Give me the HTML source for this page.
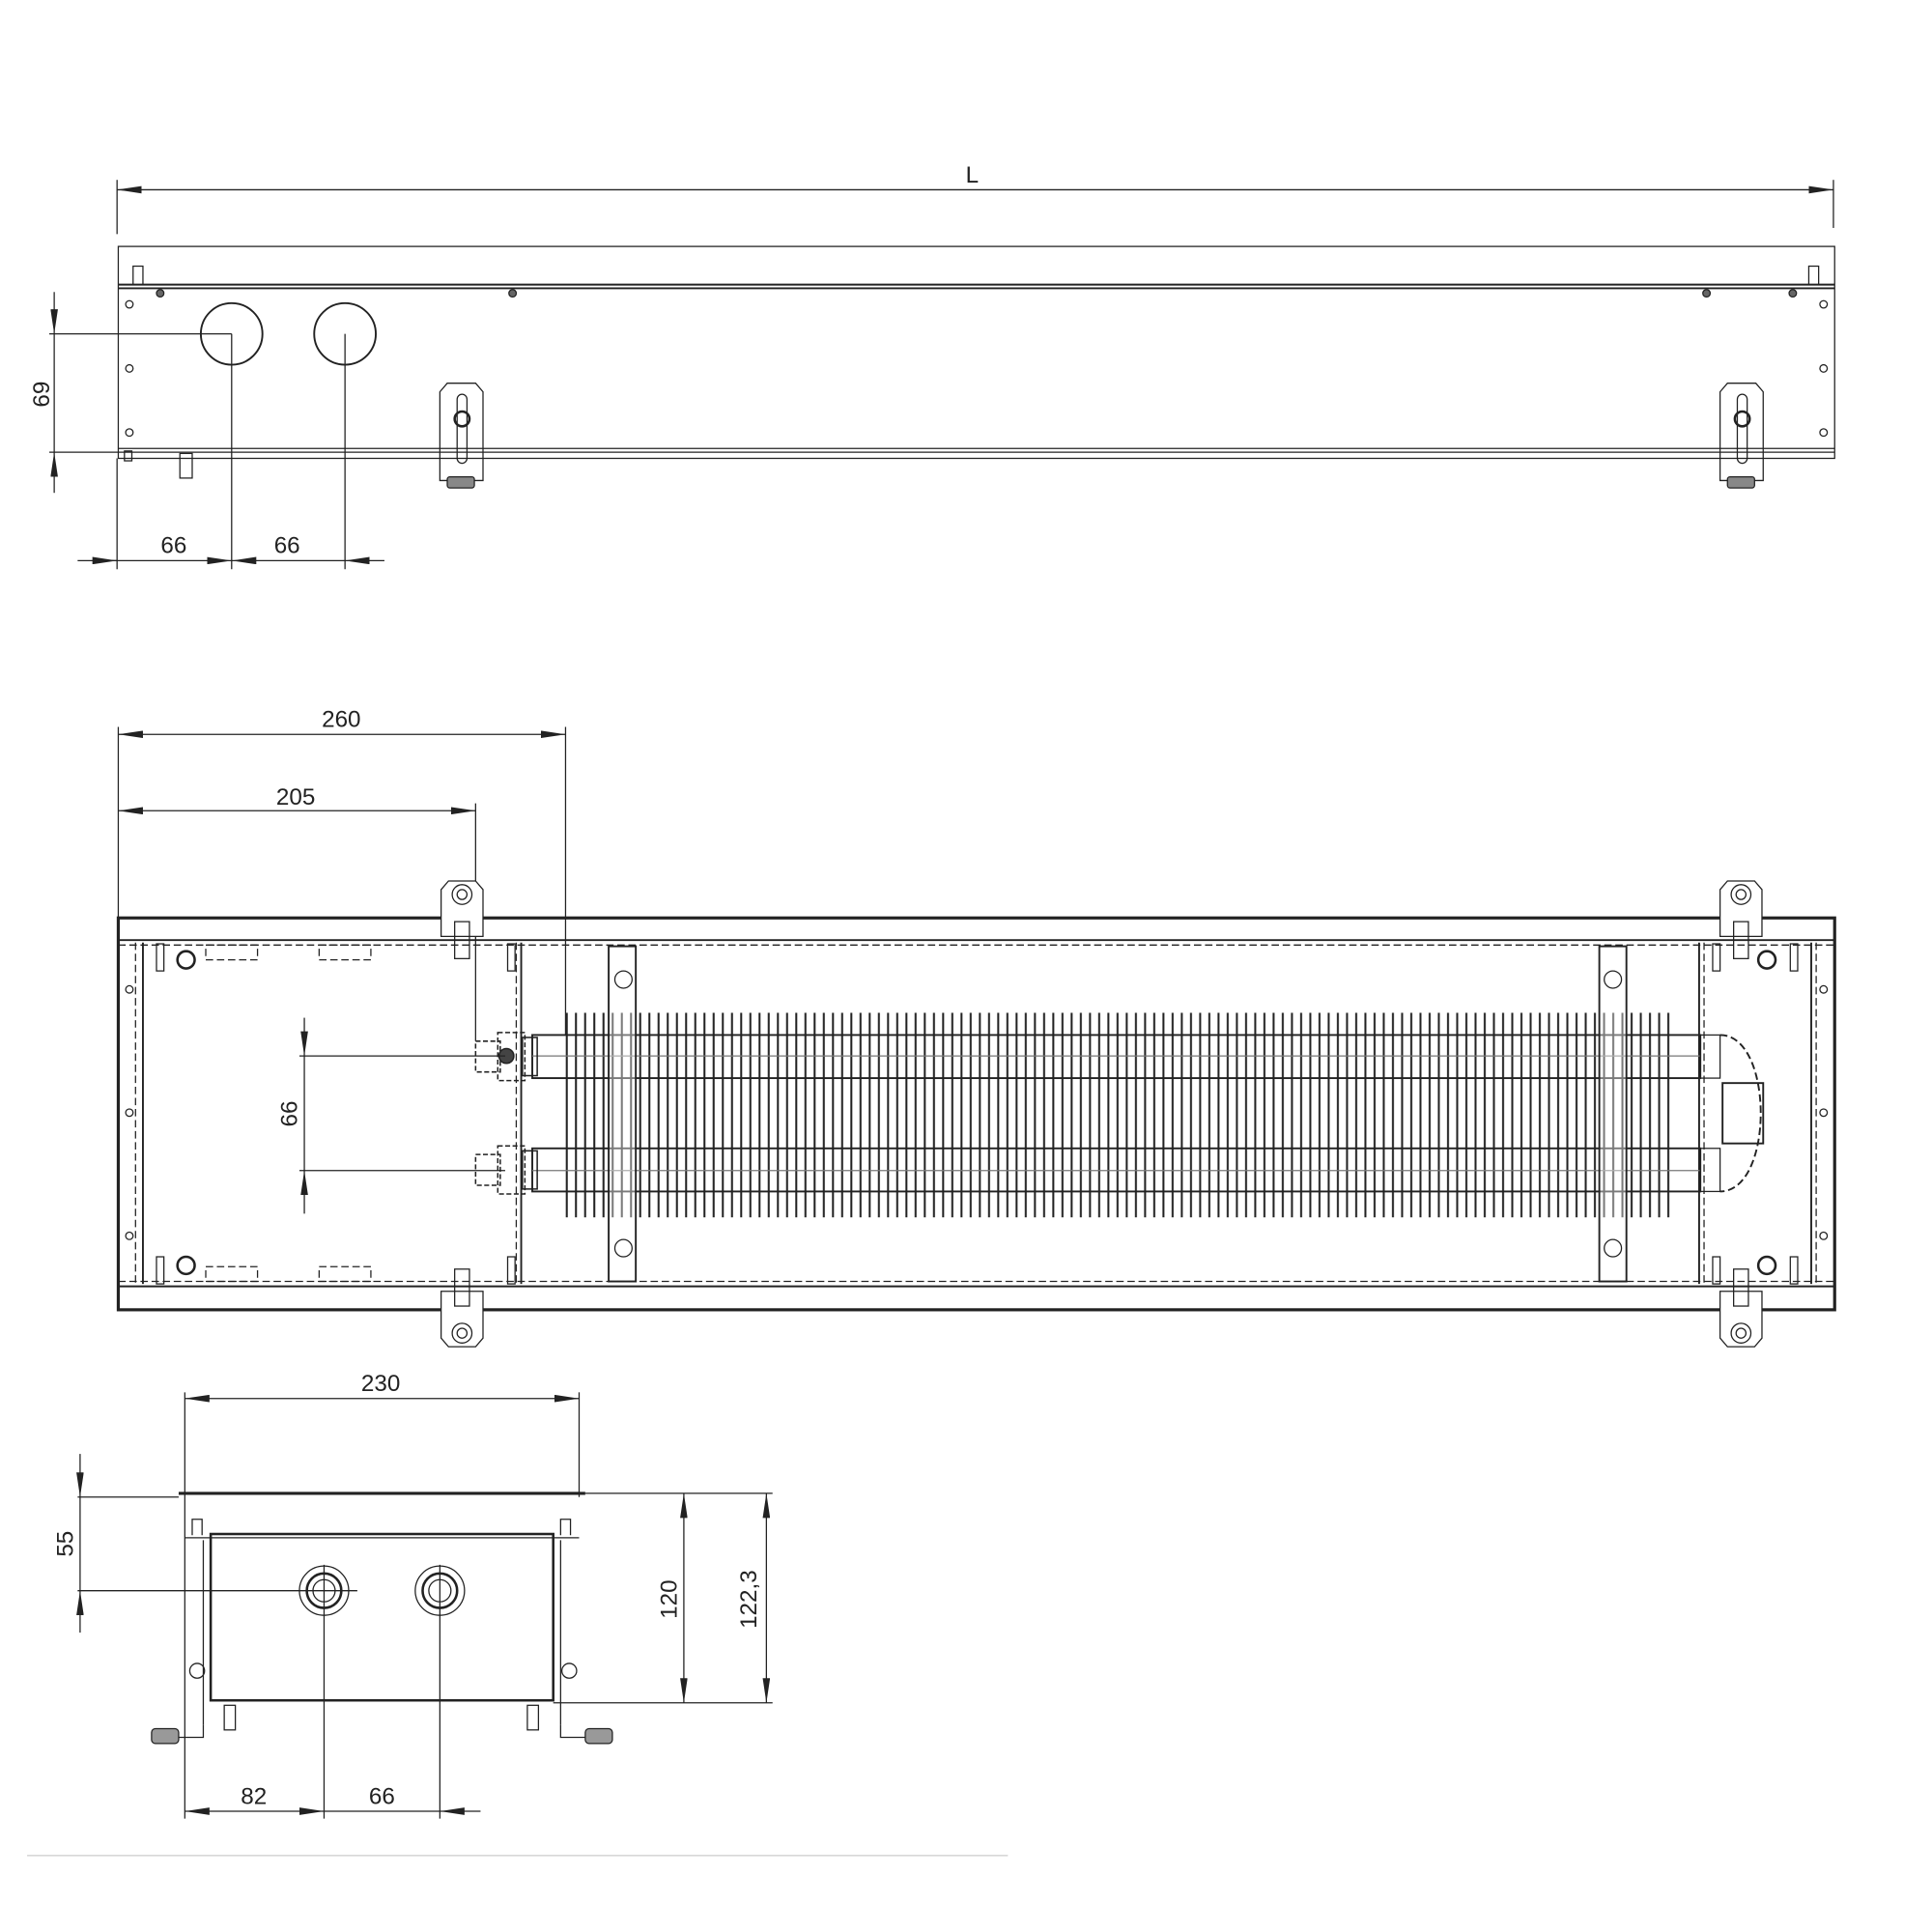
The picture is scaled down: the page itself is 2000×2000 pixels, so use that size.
<!DOCTYPE html>
<html><head><meta charset="utf-8"><style>html,body{margin:0;padding:0;background:#fff}svg{display:block}</style></head>
<body>
<svg width="2000" height="2000" viewBox="0 0 1568 1568" xmlns="http://www.w3.org/2000/svg" font-family="Liberation Sans, sans-serif" font-size="19" fill="none" stroke="#222" stroke-width="1">
<defs>
<marker id="a" viewBox="0 0 20 6" refX="20" refY="3" markerWidth="20" markerHeight="6" markerUnits="userSpaceOnUse" orient="auto-start-reverse"><path d="M0,0L20,3L0,6Z" fill="#222" stroke="none"/></marker>
<pattern id="fins" x="458" y="0" width="7.45" height="10" patternUnits="userSpaceOnUse"><line x1="2" y1="0" x2="2" y2="10" stroke="#222" stroke-width="1.6"/></pattern>
</defs>

<!-- ===== TOP VIEW ===== -->
<line x1="95" y1="154" x2="1488" y2="154" marker-start="url(#a)" marker-end="url(#a)"/>
<line x1="95" y1="146" x2="95" y2="190"/><line x1="1488" y1="146" x2="1488" y2="185"/>
<text x="789" y="148" fill="#222" stroke="none" text-anchor="middle">L</text>
<rect x="96" y="200" width="1393" height="172"/>
<line x1="96" y1="231" x2="1489" y2="231" stroke-width="1.5"/><line x1="96" y1="234" x2="1489" y2="234" stroke-width="1.5"/>
<line x1="96" y1="364" x2="1489" y2="364"/><line x1="96" y1="367" x2="1489" y2="367"/>
<rect x="108" y="216" width="8" height="15"/><rect x="1468" y="216" width="8" height="15"/>
<circle cx="188" cy="271" r="25" stroke-width="1.5"/><circle cx="280" cy="271" r="25" stroke-width="1.5"/>
<g stroke-width="1"><circle cx="105" cy="247" r="3"/><circle cx="105" cy="299" r="3"/><circle cx="105" cy="351" r="3"/>
<circle cx="1480" cy="247" r="3"/><circle cx="1480" cy="299" r="3"/><circle cx="1480" cy="351" r="3"/>
<circle cx="130" cy="238" r="3" fill="#666"/><circle cx="416" cy="238" r="3" fill="#666"/><circle cx="1385" cy="238" r="3" fill="#666"/><circle cx="1455" cy="238" r="3" fill="#666"/></g>
<rect x="101" y="366" width="6" height="8"/><rect x="146" y="368" width="10" height="20"/>
<line x1="44" y1="237" x2="44" y2="271" marker-end="url(#a)"/><line x1="44" y1="271" x2="44" y2="367"/><line x1="44" y1="400" x2="44" y2="367" marker-end="url(#a)"/>
<line x1="40" y1="271" x2="188" y2="271"/><line x1="40" y1="367" x2="96" y2="367"/>
<text transform="translate(40,320) rotate(-90)" fill="#222" stroke="none" text-anchor="middle">69</text>
<line x1="95" y1="372" x2="95" y2="462"/><line x1="188" y1="271" x2="188" y2="462"/><line x1="280" y1="271" x2="280" y2="462"/>
<line x1="63" y1="455" x2="95" y2="455" /><line x1="75" y1="455" x2="95" y2="455" marker-end="url(#a)"/>
<line x1="95" y1="455" x2="188" y2="455" marker-end="url(#a)"/><line x1="188" y1="455" x2="280" y2="455" marker-start="url(#a)"/>
<line x1="312" y1="455" x2="280" y2="455" marker-end="url(#a)"/>
<text x="141" y="449" fill="#222" stroke="none" text-anchor="middle">66</text><text x="233" y="449" fill="#222" stroke="none" text-anchor="middle">66</text>
<g id="br1"><path d="M357,318L363,311H386L392,318V390H357Z"/><rect x="371" y="320" width="8" height="56" rx="4"/><circle cx="375" cy="340" r="6" stroke-width="2"/><rect x="363" y="387" width="22" height="9" fill="#888" rx="2"/></g>
<use href="#br1" transform="translate(1039,0)"/>

<!-- ===== PLAN VIEW ===== -->
<line x1="96" y1="596" x2="459" y2="596" marker-start="url(#a)" marker-end="url(#a)"/>
<text x="277" y="590" fill="#222" stroke="none" text-anchor="middle">260</text>
<line x1="96" y1="658" x2="386" y2="658" marker-start="url(#a)" marker-end="url(#a)"/>
<text x="240" y="653" fill="#222" stroke="none" text-anchor="middle">205</text>
<line x1="96" y1="590" x2="96" y2="745"/><line x1="459" y1="590" x2="459" y2="840"/><line x1="386" y1="652" x2="386" y2="845"/>
<rect x="96" y="745" width="1393" height="318" stroke-width="2.5"/>
<line x1="96" y1="763" x2="1489" y2="763" stroke-width="1.5"/><line x1="96" y1="767" x2="1489" y2="767" stroke-dasharray="6 3"/>
<line x1="96" y1="1044" x2="1489" y2="1044" stroke-width="1.5"/><line x1="96" y1="1040" x2="1489" y2="1040" stroke-dasharray="6 3"/>
<line x1="116" y1="765" x2="116" y2="1042" stroke-width="1.5"/><line x1="110" y1="765" x2="110" y2="1042" stroke-dasharray="6 3"/>
<line x1="423" y1="765" x2="423" y2="1042" stroke-width="1.5"/><line x1="419" y1="765" x2="419" y2="1042" stroke-dasharray="6 3"/>
<line x1="1379" y1="765" x2="1379" y2="1042" stroke-width="1.5"/><line x1="1383" y1="765" x2="1383" y2="1042" stroke-dasharray="6 3"/>
<line x1="1470" y1="765" x2="1470" y2="1042" stroke-width="1.5"/><line x1="1474" y1="765" x2="1474" y2="1042" stroke-dasharray="6 3"/>
<g><circle cx="105" cy="803" r="3"/><circle cx="105" cy="903" r="3"/><circle cx="105" cy="1003" r="3"/>
<circle cx="1480" cy="803" r="3"/><circle cx="1480" cy="903" r="3"/><circle cx="1480" cy="1003" r="3"/>
<circle cx="151" cy="779" r="7" stroke-width="2"/><circle cx="151" cy="1027" r="7" stroke-width="2"/><circle cx="1434" cy="779" r="7" stroke-width="2"/><circle cx="1434" cy="1027" r="7" stroke-width="2"/></g>
<g stroke-dasharray="6 3"><rect x="167" y="767" width="42" height="12"/><rect x="259" y="767" width="42" height="12"/><rect x="167" y="1028" width="42" height="12"/><rect x="259" y="1028" width="42" height="12"/></g>
<rect x="127" y="766" width="6" height="22"/><rect x="127" y="1020" width="6" height="22"/><rect x="412" y="766" width="6" height="22"/><rect x="412" y="1020" width="6" height="22"/>
<rect x="1390" y="766" width="6" height="22"/><rect x="1390" y="1020" width="6" height="22"/><rect x="1453" y="766" width="6" height="22"/><rect x="1453" y="1020" width="6" height="22"/>
<rect x="458" y="822" width="898" height="166" fill="url(#fins)" stroke="none"/>
<rect x="432" y="840" width="948" height="35" fill="none" stroke-width="1.5"/><line x1="432" y1="857" x2="1380" y2="857" stroke="#777"/>
<rect x="432" y="932" width="948" height="35" fill="none" stroke-width="1.5"/><line x1="432" y1="950" x2="1380" y2="950" stroke="#777"/>
<rect x="1380" y="840" width="16" height="35"/><rect x="1380" y="932" width="16" height="35"/>
<path d="M1396,840 C1440,840 1440,967 1396,967" stroke-dasharray="6 3" stroke-width="1.5"/>
<rect x="1398" y="879" width="33" height="49" stroke-width="1.5"/>
<g stroke-width="1.2"><rect x="386" y="845" width="20" height="25" stroke-dasharray="4 2"/><rect x="404" y="838" width="22" height="39" stroke-dasharray="4 2"/><rect x="424" y="842" width="12" height="31"/><circle cx="411" cy="857" r="6" fill="#444"/>
<rect x="386" y="937" width="20" height="25" stroke-dasharray="4 2"/><rect x="404" y="930" width="22" height="39" stroke-dasharray="4 2"/><rect x="424" y="934" width="12" height="31"/></g>
<rect x="494" y="768" width="22" height="272" fill="#fff" fill-opacity="0.4" stroke-width="1.5"/><circle cx="506" cy="795" r="7"/><circle cx="506" cy="1013" r="7"/>
<rect x="1298" y="768" width="22" height="272" fill="#fff" fill-opacity="0.4" stroke-width="1.5"/><circle cx="1309" cy="795" r="7"/><circle cx="1309" cy="1013" r="7"/>
<g id="mb"><path d="M358,722L364,715H386L392,722V760H358Z" fill="#fff"/><circle cx="375" cy="726" r="8"/><circle cx="375" cy="726" r="4"/><rect x="369" y="748" width="12" height="30"/></g>
<use href="#mb" transform="translate(1038,0)"/>
<use href="#mb" transform="translate(0,1808) scale(1,-1)"/>
<use href="#mb" transform="translate(1038,1808) scale(1,-1)"/>
<line x1="247" y1="826" x2="247" y2="857" marker-end="url(#a)"/><line x1="247" y1="857" x2="247" y2="950"/><line x1="247" y1="985" x2="247" y2="950" marker-end="url(#a)"/>
<line x1="243" y1="857" x2="410" y2="857"/><line x1="243" y1="950" x2="410" y2="950"/>
<text transform="translate(241,904) rotate(-90)" fill="#222" stroke="none" text-anchor="middle">66</text>

<!-- ===== SECTION VIEW ===== -->
<line x1="150" y1="1135" x2="470" y2="1135" marker-start="url(#a)" marker-end="url(#a)"/>
<text x="309" y="1129" fill="#222" stroke="none" text-anchor="middle">230</text>
<line x1="150" y1="1130" x2="150" y2="1476"/><line x1="470" y1="1130" x2="470" y2="1215"/>
<line x1="145" y1="1212" x2="475" y2="1212" stroke-width="2.5"/>
<line x1="63" y1="1215" x2="145" y2="1215"/><line x1="475" y1="1212" x2="627" y2="1212"/>
<path d="M156,1246V1233H164V1246"/><path d="M455,1246V1233H463V1246"/>
<line x1="150" y1="1248" x2="470" y2="1248"/>
<rect x="171" y="1245" width="278" height="135" stroke-width="2"/>
<line x1="165" y1="1250" x2="165" y2="1400"/><line x1="455" y1="1250" x2="455" y2="1400"/>
<g><circle cx="263" cy="1291" r="20"/><circle cx="263" cy="1291" r="14" stroke-width="2"/><circle cx="263" cy="1291" r="9"/>
<circle cx="357" cy="1291" r="20"/><circle cx="357" cy="1291" r="14" stroke-width="2"/><circle cx="357" cy="1291" r="9"/></g>
<circle cx="160" cy="1356" r="6"/><circle cx="462" cy="1356" r="6"/>
<rect x="182" y="1384" width="9" height="20"/><rect x="428" y="1384" width="9" height="20"/>
<path d="M165,1400V1410H145"/><rect x="123" y="1403" width="22" height="12" rx="3" fill="#999"/>
<path d="M455,1400V1410H475"/><rect x="475" y="1403" width="22" height="12" rx="3" fill="#999"/>
<line x1="65" y1="1180" x2="65" y2="1215" marker-end="url(#a)"/><line x1="65" y1="1215" x2="65" y2="1291"/><line x1="65" y1="1325" x2="65" y2="1291" marker-end="url(#a)"/>
<line x1="63" y1="1291" x2="290" y2="1291"/>
<text transform="translate(59,1253) rotate(-90)" fill="#222" stroke="none" text-anchor="middle">55</text>
<line x1="449" y1="1382" x2="627" y2="1382"/>
<line x1="555" y1="1212" x2="555" y2="1382" marker-start="url(#a)" marker-end="url(#a)"/>
<text transform="translate(549,1298) rotate(-90)" fill="#222" stroke="none" text-anchor="middle">120</text>
<line x1="622" y1="1212" x2="622" y2="1382" marker-start="url(#a)" marker-end="url(#a)"/>
<text transform="translate(614,1298) rotate(-90)" fill="#222" stroke="none" text-anchor="middle">122,3</text>
<line x1="263" y1="1270" x2="263" y2="1476"/><line x1="357" y1="1270" x2="357" y2="1476"/>
<line x1="150" y1="1470" x2="263" y2="1470" marker-start="url(#a)" marker-end="url(#a)"/>
<line x1="263" y1="1470" x2="357" y2="1470"/><line x1="390" y1="1470" x2="357" y2="1470" marker-end="url(#a)"/>
<text x="206" y="1464" fill="#222" stroke="none" text-anchor="middle">82</text><text x="310" y="1464" fill="#222" stroke="none" text-anchor="middle">66</text>
<line x1="22" y1="1506" x2="818" y2="1506" stroke="#ccc"/>
</svg>
</body></html>
